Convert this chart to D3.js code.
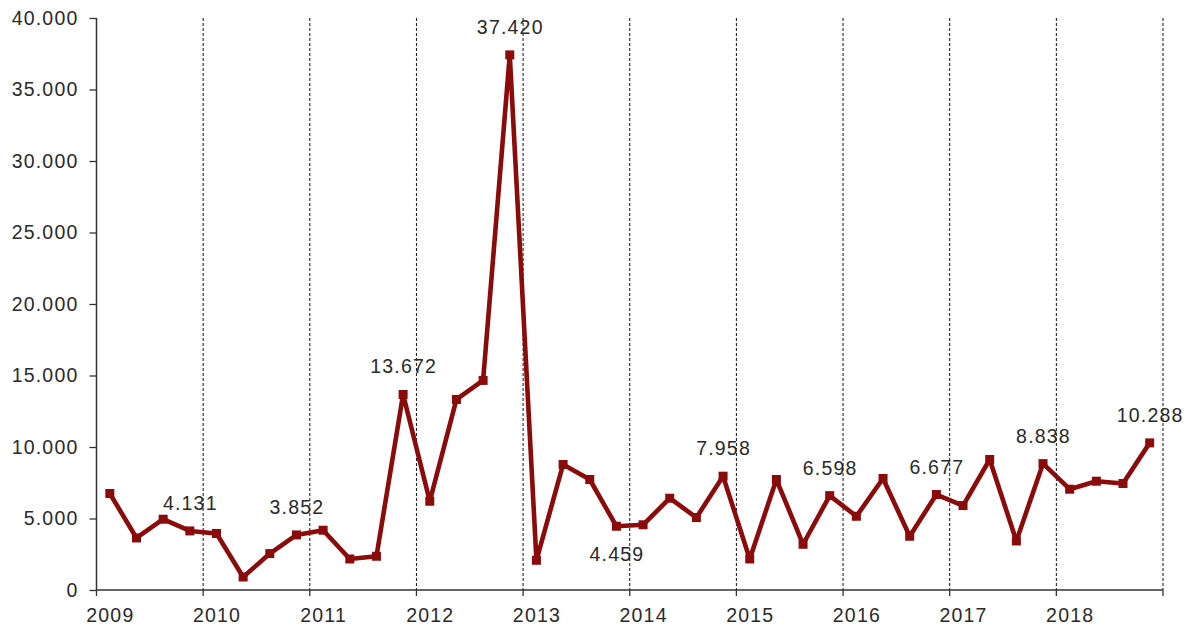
<!DOCTYPE html>
<html><head><meta charset="utf-8">
<script src="https://cdn.jsdelivr.net/npm/d3@7"></script>
<style>html,body{margin:0;padding:0;background:#fff;}svg{display:block;}</style>
</head><body>
<svg id="chart" width="1188" height="628"></svg>
<script>
const years = ["2009","2010","2011","2012","2013","2014","2015","2016","2017","2018"];
const quarters = ["Q1","Q2","Q3","Q4"];
const values = [
  6750, 3640, 4950, 4131,
  3950, 910, 2548, 3852,
  4180, 2170, 2360, 13672,
  6208, 13327, 14657, 37420,
  2079, 8777, 7727, 4459,
  4560, 6418, 5067, 7958,
  2170, 7727, 3199, 6598,
  5158, 7797, 3759, 6677,
  5907, 9127, 3430, 8838,
  7048, 7608, 7447, 10288
];
const labelAbove = [3, 7, 11, 15, 23, 27, 31, 35, 39];
const labelBelow = [19];
const yTicks = [0, 5000, 10000, 15000, 20000, 25000, 30000, 35000, 40000];

const periods = [];
years.forEach(yr => quarters.forEach(q => periods.push(yr + q)));

const svg = d3.select("#chart");
const mLeft = 96.5, mRight = 1163, mTop = 18, mBottom = 590;
const font = "'Liberation Sans', Arial, sans-serif";
const fontSize = 19.5;
const spacing = "1.2px";
const textColor = "#2a2a2a";
const lineColor = "#8b0a0a";

const x = d3.scalePoint().domain(periods).range([mLeft, mRight]).padding(0.5);
const xYear = d3.scaleBand().domain(years).range([mLeft, mRight]);
const y = d3.scaleLinear().domain([0, 40000]).range([mBottom, mTop]);
const fmt = v => d3.format(",")(v).replace(/,/g, ".");

function styleText(sel) {
  sel.attr("font-family", font).attr("font-size", fontSize)
     .attr("letter-spacing", spacing).attr("fill", textColor);
}

// vertical dashed gridlines at year boundaries
const bounds = years.slice(1).map(yr => xYear(yr)).concat([mRight]);
svg.append("g").selectAll("line").data(bounds).join("line")
  .attr("x1", d => d).attr("x2", d => d)
  .attr("y1", mTop).attr("y2", mBottom)
  .attr("stroke", "#111").attr("stroke-width", 1)
  .attr("stroke-dasharray", "3,2");

// y axis
const yAxis = svg.append("g").attr("transform", `translate(${mLeft},0)`)
  .call(d3.axisLeft(y).tickValues(yTicks).tickFormat(fmt).tickSize(7).tickPadding(11));
yAxis.select(".domain").attr("stroke", "#333").attr("stroke-width", 1.5).attr("d", `M0,${mTop}V${mBottom}`);
yAxis.selectAll(".tick line").attr("stroke", "#333").attr("stroke-width", 1.3);
yAxis.selectAll("text").call(styleText);

// x axis
const xAxis = svg.append("g").attr("transform", `translate(0,${mBottom})`)
  .call(d3.axisBottom(xYear).tickSize(0).tickFormat(d => d));
xAxis.select(".domain").attr("stroke", "#333").attr("stroke-width", 1.5).attr("d", `M${mLeft},0H${mRight}`);
xAxis.selectAll(".tick").attr("transform", d => `translate(${xYear(d)},0)`);
xAxis.selectAll(".tick text")
  .attr("x", x.step() / 2 + 0.5).attr("y", 32).attr("dy", 0)
  .call(styleText);
// tick marks at year boundaries
const tickPos = [mLeft].concat(bounds);
svg.append("g").selectAll("line").data(tickPos).join("line")
  .attr("x1", d => d).attr("x2", d => d)
  .attr("y1", mBottom).attr("y2", mBottom + 6)
  .attr("stroke", "#333").attr("stroke-width", 1.3);

// line
const line = d3.line().x((d, i) => x(periods[i])).y(d => y(d));
svg.append("path").datum(values)
  .attr("d", line).attr("fill", "none")
  .attr("stroke", lineColor).attr("stroke-width", 4.6)
  .attr("stroke-linejoin", "round");

// markers
svg.append("g").selectAll("rect").data(values).join("rect")
  .attr("x", (d, i) => x(periods[i]) - 4.5).attr("y", d => y(d) - 4.5)
  .attr("width", 9).attr("height", 9).attr("fill", lineColor);

// labels
svg.append("g").selectAll("text").data(labelAbove).join("text")
  .attr("x", i => x(periods[i]) + 0.5).attr("y", i => y(values[i]) - 21)
  .attr("text-anchor", "middle").call(styleText).text(i => fmt(values[i]));
svg.append("g").selectAll("text").data(labelBelow).join("text")
  .attr("x", i => x(periods[i]) + 0.5).attr("y", i => y(values[i]) + 35)
  .attr("text-anchor", "middle").call(styleText).text(i => fmt(values[i]));
</script>
</body></html>
